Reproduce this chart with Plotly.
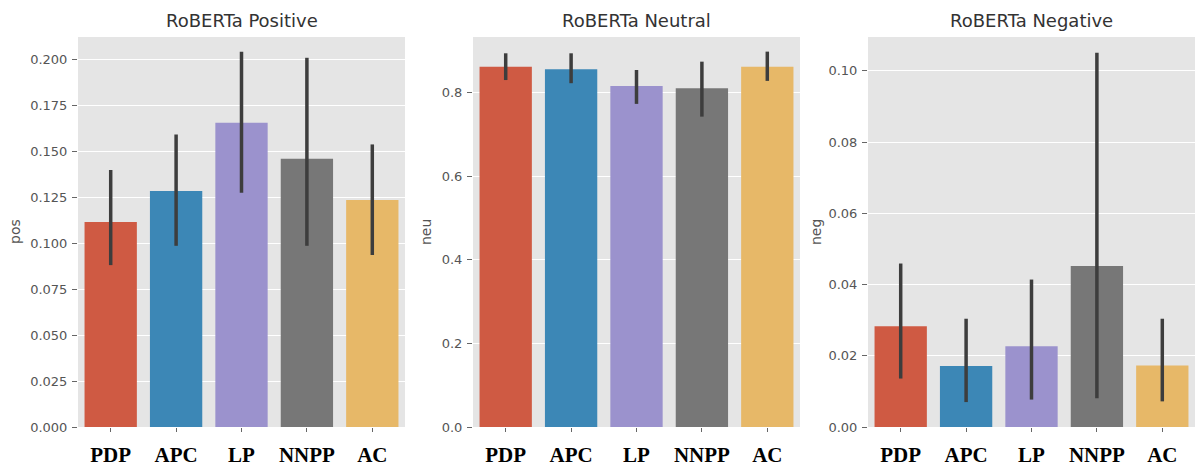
import plotly.graph_objects as go

categories = ["PDP", "APC", "LP", "NNPP", "AC"]
colors = ["#CF5A43", "#3C87B6", "#9B92CD", "#777777", "#E7B868"]

pos_mean = [0.1114, 0.1283, 0.1654, 0.1458, 0.1234]
pos_hi = [0.1397, 0.1590, 0.2040, 0.2007, 0.1536]
pos_lo = [0.0880, 0.0985, 0.1273, 0.0985, 0.0935]

neu_mean = [0.862, 0.856, 0.816, 0.8105, 0.862]
neu_hi = [0.894, 0.894, 0.854, 0.874, 0.898]
neu_lo = [0.830, 0.8225, 0.773, 0.7425, 0.828]

neg_mean = [0.0283, 0.0171, 0.0227, 0.0452, 0.0173]
neg_hi = [0.0459, 0.0304, 0.0414, 0.1051, 0.0304]
neg_lo = [0.0136, 0.0070, 0.0077, 0.0081, 0.0072]

panels = [
    ("RoBERTa Positive", "pos", pos_mean, pos_hi, pos_lo, [0, 0.212], 0.025, ".3f"),
    ("RoBERTa Neutral", "neu", neu_mean, neu_hi, neu_lo, [0, 0.933], 0.2, ".1f"),
    ("RoBERTa Negative", "neg", neg_mean, neg_hi, neg_lo, [0, 0.1095], 0.02, ".2f"),
]
domains = [[78 / 1197, 405 / 1197], [473 / 1197, 800 / 1197], [868 / 1197, 1195 / 1197]]
ytitle_x = [15, 426, 816]

fig = go.Figure()
for i, (title, ylab, m, hi, lo, rng, dt, fmt) in enumerate(panels):
    n = "" if i == 0 else str(i + 1)
    fig.add_trace(go.Bar(
        x=list(range(len(categories))), y=m,
        marker=dict(color=colors, line=dict(width=0)),
        width=0.8,
        error_y=dict(type="data", symmetric=False,
                     array=[h - v for h, v in zip(hi, m)],
                     arrayminus=[v - l for l, v in zip(lo, m)],
                     color="#3d3d3d", thickness=3.5, width=0),
        xaxis="x" + n, yaxis="y" + n, showlegend=False,
    ))
    ticks = []
    v = 0.0
    while v <= rng[1] + 1e-9:
        ticks.append(round(v, 4))
        v += dt
    fig.layout["xaxis" + n] = dict(
        domain=domains[i], anchor="y" + n, range=[-0.5, 4.5],
        tickvals=list(range(len(categories))), ticktext=categories,
        tickfont=dict(family="Liberation Serif", size=21, color="black", weight="bold"),
        ticks="outside", ticklen=4, tickcolor="#666", showgrid=False,
        zeroline=False, showline=False, ticklabelstandoff=5,
    )
    fig.layout["yaxis" + n] = dict(
        domain=[0, 1], anchor="x" + n, range=rng,
        tickvals=ticks, tickformat=fmt,
        tickfont=dict(family="DejaVu Sans", size=13, color="#555"),
        ticks="outside", ticklen=5, tickcolor="#666",
        showgrid=True, gridcolor="white", gridwidth=1,
        zeroline=False, showline=False, ticklabelstandoff=2,
    )
    fig.add_annotation(text=title, xref="paper", yref="paper",
                       x=(domains[i][0] + domains[i][1]) / 2, y=1, yshift=17,
                       xanchor="center", yanchor="middle", showarrow=False,
                       font=dict(family="DejaVu Sans", size=18, color="#333"))
    fig.add_annotation(text=ylab, xref="paper", yref="paper",
                       x=ytitle_x[i] / 1197, y=0.5, xanchor="center", yanchor="middle",
                       textangle=-90, showarrow=False,
                       font=dict(family="DejaVu Sans", size=14, color="#555"))
    fig.add_shape(type="rect", xref="x" + n + " domain", yref="y" + n + " domain",
                  x0=0, x1=1, y0=0, y1=1, fillcolor="#E5E5E5", line=dict(width=0),
                  layer="below")

fig.update_layout(
    width=1197, height=466,
    margin=dict(l=0, r=0, t=37, b=39, autoexpand=False),
    paper_bgcolor="white", plot_bgcolor="rgba(0,0,0,0)",
    bargap=0.2,
)
fig.write_html("out.html", config={"displayModeBar": False})

with open("out.html", "r", encoding="utf-8") as f:
    html = f.read()
html = html.replace("<head>", "<head><style>html,body{margin:0;padding:0;}</style>", 1)
with open("out.html", "w", encoding="utf-8") as f:
    f.write(html)
